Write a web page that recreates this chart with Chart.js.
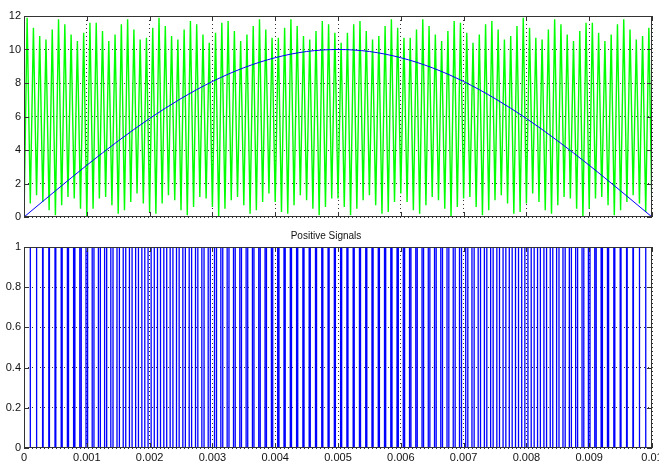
<!DOCTYPE html>
<html>
<head>
<meta charset="utf-8">
<script src="https://cdn.jsdelivr.net/npm/chart.js@4/dist/chart.umd.min.js"></script>
<style>
  body { margin: 0; background: #fff; }
  canvas { position: absolute; left: 0; }
  #topChart { top: 0; }
  #pwmChart { top: 225px; }
</style>
</head>
<body>
<canvas id="topChart" width="659" height="225"></canvas>
<canvas id="pwmChart" width="659" height="239"></canvas>
<script>
// carrier period (s) and sample step of the reference sine
const carrierPeriod = 0.0001;
const sineStep = 0.0005;

// reference sine, 0 .. 0.01 s
const sineValues = [0, 1.56, 3.09, 4.54, 5.88, 7.07, 8.09, 8.91, 9.51, 9.88, 10,
  9.88, 9.51, 8.91, 8.09, 7.07, 5.88, 4.54, 3.09, 1.56, 0];

// carrier upper vertices, one per period (as sampled)
const carrierPeaks = [
  11.9, 11.3, 10.8, 10.6, 11.2, 11.8, 11.5, 10.9, 10.5, 11.0, 11.6, 11.6, 11.1, 10.5, 10.9, 11.5, 11.8, 11.2, 10.6, 10.7, 11.3,
  11.9, 11.4, 10.8, 10.6, 11.2, 11.7, 11.5, 10.9, 10.4, 11.0, 11.6, 11.7, 11.1, 10.5, 10.9, 11.4, 11.8, 11.2, 10.7, 10.7, 11.3,
  11.8, 11.4, 10.8, 10.6, 11.1, 11.7, 11.5, 11.0, 10.4, 11.0, 11.5, 11.7, 11.1, 10.6, 10.8, 11.4, 11.8, 11.3, 10.7, 10.7, 11.2,
  11.8, 11.4, 10.9, 10.5, 11.1, 11.7, 11.6, 11.0, 10.4, 10.9, 11.5, 11.7, 11.2, 10.6, 10.8, 11.4, 11.9, 11.3, 10.7, 10.6, 11.2,
  11.8, 11.5, 10.9, 10.5, 11.1, 11.6, 11.6, 11.0, 10.5, 10.9, 11.5, 11.8, 11.2, 10.6, 10.8, 11.3
];

// carrier lower vertices, one per period boundary
const carrierTroughs = [
  0.0, 0.8, 1.3, 0.9, 0.4, 0.1, 0.7, 1.2, 1.1, 0.5, 0.0, 0.5, 1.1, 1.2, 0.7, 0.2, 0.4, 0.9, 1.4, 0.8, 0.3,
  0.2, 0.8, 1.3, 1.0, 0.4, 0.1, 0.6, 1.2, 1.1, 0.6, 0.0, 0.5, 1.0, 1.2, 0.7, 0.2, 0.4, 0.9, 1.4, 0.9, 0.3,
  0.2, 0.7, 1.3, 1.0, 0.5, 0.1, 0.6, 1.1, 1.1, 0.6, 0.1, 0.5, 1.0, 1.3, 0.7, 0.2, 0.3, 0.9, 1.4, 0.9, 0.4,
  0.2, 0.7, 1.2, 1.0, 0.5, 0.0, 0.6, 1.1, 1.2, 0.6, 0.1, 0.4, 1.0, 1.3, 0.8, 0.2, 0.3, 0.8, 1.4, 0.9, 0.4,
  0.2, 0.7, 1.2, 1.1, 0.5, 0.0, 0.5, 1.1, 1.2, 0.7, 0.1, 0.4, 0.9, 1.3, 0.8, 0.3, 0.0
];

// pulse width of each positive pulse, as a fraction of the carrier period (periods 1..99)
const pulseDuty = [
  0.03, 0.05, 0.08, 0.10, 0.13, 0.16, 0.18, 0.21, 0.23, 0.26,
  0.28, 0.31, 0.33, 0.35, 0.38, 0.40, 0.42, 0.45, 0.47, 0.49,
  0.51, 0.53, 0.55, 0.57, 0.59, 0.61, 0.62, 0.64, 0.66, 0.67,
  0.69, 0.70, 0.72, 0.73, 0.74, 0.75, 0.76, 0.77, 0.78, 0.79,
  0.80, 0.81, 0.81, 0.82, 0.82, 0.83, 0.83, 0.83, 0.83, 0.83,
  0.83, 0.83, 0.83, 0.83, 0.82, 0.82, 0.81, 0.81, 0.80, 0.79,
  0.78, 0.77, 0.76, 0.75, 0.74, 0.73, 0.72, 0.70, 0.69, 0.67,
  0.66, 0.64, 0.62, 0.61, 0.59, 0.57, 0.55, 0.53, 0.51, 0.49,
  0.47, 0.45, 0.42, 0.40, 0.38, 0.35, 0.33, 0.31, 0.28, 0.26,
  0.23, 0.21, 0.18, 0.16, 0.13, 0.10, 0.08, 0.05, 0.03
];

const xTickLabels = ['0', '0.001', '0.002', '0.003', '0.004', '0.005', '0.006', '0.007', '0.008', '0.009', '0.01'];
const topTickLabels = ['0', '2', '4', '6', '8', '10', '12'];
const pwmTickLabels = ['0', '0.2', '0.4', '0.6', '0.8', '1'];

// build point lists
const sinePoints = sineValues.map((v, i) => ({ x: i * sineStep, y: v }));

const carrierPoints = [];
carrierTroughs.forEach((v, k) => {
  carrierPoints.push({ x: k * carrierPeriod, y: v });
  if (k < carrierPeaks.length) {
    carrierPoints.push({ x: (k + 0.5) * carrierPeriod, y: carrierPeaks[k] });
  }
});

const pwmPoints = [{ x: 0, y: 0 }];
pulseDuty.forEach((d, i) => {
  const c = (i + 1) * carrierPeriod;
  const h = d * carrierPeriod / 2;
  pwmPoints.push({ x: c - h, y: 0 }, { x: c - h, y: 1 }, { x: c + h, y: 1 }, { x: c + h, y: 0 });
});
pwmPoints.push({ x: 0.01, y: 0 });

Chart.defaults.font.family = 'Arial, "Liberation Sans", sans-serif';
Chart.defaults.font.size = 11;
Chart.defaults.color = '#111';

// axis box with inward tick marks, matlab style
const boxFrame = {
  id: 'boxFrame',
  afterDraw(chart) {
    const { ctx, chartArea: a, scales } = chart;
    ctx.save();
    ctx.strokeStyle = '#333';
    ctx.lineWidth = 1;
    ctx.strokeRect(a.left + 0.5, a.top + 0.5, a.right - a.left - 1, a.bottom - a.top - 1);
    ctx.beginPath();
    scales.y.ticks.forEach(t => {
      const y = Math.round(scales.y.getPixelForValue(t.value)) + 0.5;
      ctx.moveTo(a.left, y); ctx.lineTo(a.left + 5, y);
      ctx.moveTo(a.right, y); ctx.lineTo(a.right - 5, y);
    });
    scales.x.ticks.forEach(t => {
      const x = Math.round(scales.x.getPixelForValue(t.value)) + 0.5;
      ctx.moveTo(x, a.bottom); ctx.lineTo(x, a.bottom - 5);
      ctx.moveTo(x, a.top); ctx.lineTo(x, a.top + 5);
    });
    ctx.stroke();
    ctx.restore();
  }
};

function xAxis(showLabels, height) {
  return {
    type: 'linear', min: 0, max: 0.01, z: 1,
    border: { display: false, dash: [1, 3] },
    grid: { color: 'rgba(0,0,0,0.8)', drawTicks: false },
    ticks: {
      display: showLabels, stepSize: 0.001, padding: 3, maxRotation: 0, autoSkip: false,
      callback: (v, i) => xTickLabels[i]
    },
    afterFit: s => { s.height = height; s.paddingLeft = 0; s.paddingRight = 0; }
  };
}

function yAxis(max, step, labels) {
  return {
    min: 0, max: max, z: 1,
    border: { display: false, dash: [1, 3] },
    grid: { color: 'rgba(0,0,0,0.8)', drawTicks: false },
    ticks: { stepSize: step, padding: 3, callback: (v, i) => labels[i] },
    afterFit: s => { s.width = 24; s.paddingTop = 0; s.paddingBottom = 0; }
  };
}

const common = {
  responsive: false,
  animation: false,
  devicePixelRatio: 1,
  events: [],
  elements: { point: { radius: 0 } },
  plugins: { legend: { display: false }, tooltip: { enabled: false } }
};

new Chart(document.getElementById('topChart'), {
  type: 'line',
  data: {
    datasets: [
      { data: sinePoints, borderColor: '#0000ff', borderWidth: 1, cubicInterpolationMode: 'monotone', order: 0 },
      { data: carrierPoints, borderColor: '#00ff00', borderWidth: 1.4, order: 1 }
    ]
  },
  options: {
    ...common,
    layout: { padding: { top: 16, right: 7, left: 0, bottom: 0 } },
    scales: { x: xAxis(false, 8), y: yAxis(12, 2, topTickLabels) }
  },
  plugins: [boxFrame]
});

new Chart(document.getElementById('pwmChart'), {
  type: 'line',
  data: {
    datasets: [
      { data: pwmPoints, borderColor: '#0000ff', borderWidth: 1.3 }
    ]
  },
  options: {
    ...common,
    layout: { padding: { top: 0, right: 7, left: 0, bottom: 0 } },
    plugins: {
      ...common.plugins,
      title: {
        display: true, text: 'Positive Signals', color: '#111',
        font: { size: 10, weight: 'normal' }, padding: { top: 5, bottom: 5 }
      }
    },
    scales: { x: xAxis(true, 16), y: yAxis(1, 0.2, pwmTickLabels) }
  },
  plugins: [boxFrame]
});
</script>
</body>
</html>
